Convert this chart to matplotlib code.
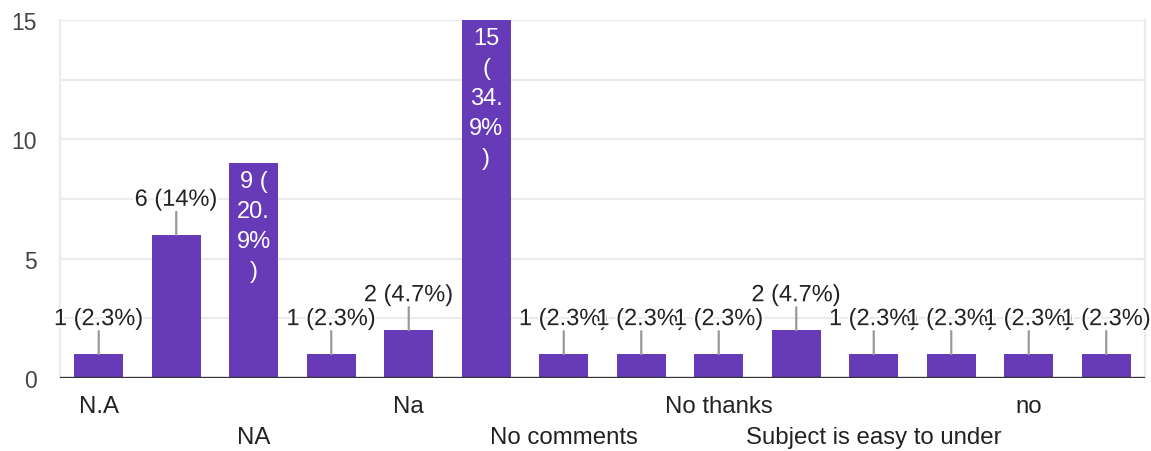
import numpy as np
import matplotlib.pyplot as plt
import matplotlib.patheffects as pe

# responses (odd categories are not labelled on the axis in the original chart)
categories = ["N.A", "N/A", "NA", "NIL", "Na", "Nil", "No comments", "No suggestions",
              "No thanks", "Nothing", "Subject is easy to under", "Very good", "no", "nil"]
counts = [1, 6, 9, 1, 2, 15, 1, 1, 1, 2, 1, 1, 1, 1]
yticks = [0, 5, 10, 15]

purple = '#673ab7'
total = sum(counts)
font = 'Liberation Sans'

fig = plt.figure(figsize=(11.51, 4.52), dpi=100)
ax = fig.add_axes([60/1151, 1-379/452, 1085/1151, 358/452])

x = np.arange(len(counts))
ax.bar(x, counts, width=0.63, color=purple, zorder=2)

ax.set_xlim(-0.5, len(counts)-0.5)
ax.set_ylim(0, 15)
for g in np.arange(2.5, 15.1, 2.5):
    ax.axhline(g, color='#ebebeb', lw=1.6, zorder=0)
ax.axhline(0, color='#333333', lw=2.4, zorder=3)

for s in ['top', 'bottom']:
    ax.spines[s].set_visible(False)
for s in ['left', 'right']:
    ax.spines[s].set_color('#ebebeb')
    ax.spines[s].set_linewidth(1.6)

ax.set_yticks(yticks)
ax.set_yticklabels([str(t) for t in yticks], fontsize=16.5, color='#444444', family=font)
ax.tick_params(axis='y', length=0, pad=17)
ax.set_xticks([])

# category labels, every other one, staggered in two rows
for i in range(0, len(categories), 2):
    row = (i // 2) % 2
    ax.annotate(categories[i], xy=(i, 0), xytext=(0, -28 - 31*row), textcoords='offset pixels',
                ha='center', va='center', fontsize=17.3, color='#222222', family=font)

def pct_str(v):
    p = 100.0 * v / total
    return ('%.1f' % p).rstrip('0').rstrip('.') + '%'

halo = [pe.withStroke(linewidth=3, foreground='white')]
for i, v in enumerate(counts):
    p = pct_str(v)
    if v > 7:
        # label wrapped inside the bar
        head = '%d (' % v
        lines = [head] if len(head) <= 3 else [str(v), '(']
        a, b = p.split('.') if '.' in p else (p, '')
        lines += [a + '.', b] if b else [a]
        lines += [')']
        for k, ln in enumerate(lines):
            ax.annotate(ln, xy=(i, v), xytext=(0, -18 - 30*k), textcoords='offset pixels',
                        ha='center', va='center', fontsize=17, color='white', family=font, zorder=4)
    else:
        ax.annotate('', xy=(i, v), xytext=(0, 23), textcoords='offset pixels',
                    arrowprops=dict(arrowstyle='-', color='#999999', lw=1.6, shrinkA=0, shrinkB=0),
                    zorder=3)
        ax.annotate('%d (%s)' % (v, p), xy=(i, v), xytext=(0, 35), textcoords='offset pixels',
                    ha='center', va='center', fontsize=17, color='#222222', family=font,
                    path_effects=halo, zorder=4 + i)

fig.savefig('out.png', dpi=100)
